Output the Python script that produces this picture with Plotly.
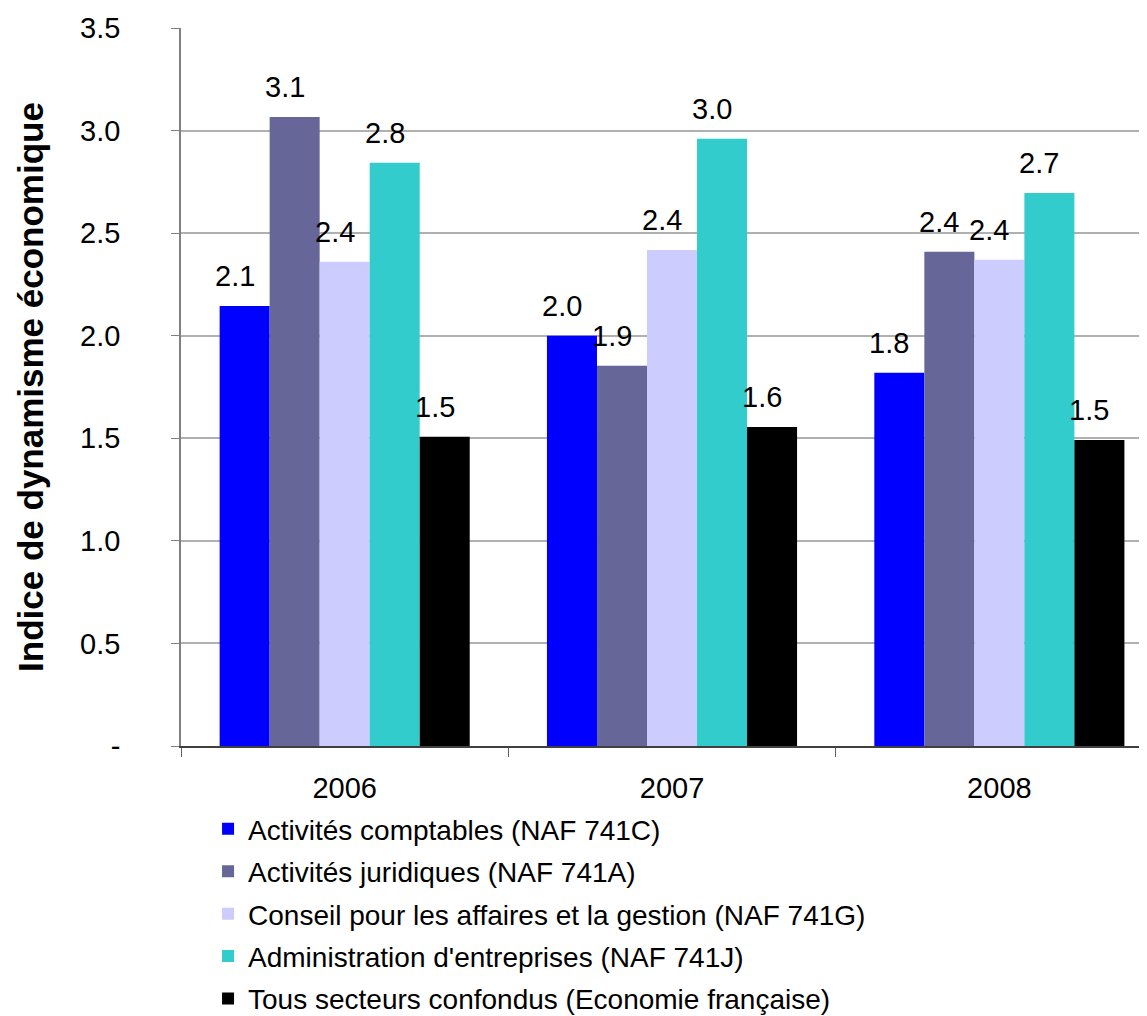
import plotly.graph_objects as go

years = ["2006", "2007", "2008"]
series_names = [
    "Activités comptables (NAF 741C)",
    "Activités juridiques (NAF 741A)",
    "Conseil pour les affaires et la gestion (NAF 741G)",
    "Administration d'entreprises (NAF 741J)",
    "Tous secteurs confondus (Economie française)",
]
comptables = [2.145, 2.00, 1.82]
juridiques = [3.066, 1.853, 2.409]
conseil = [2.36, 2.418, 2.37]
administration = [2.843, 2.96, 2.696]
tous = [1.507, 1.555, 1.492]
values = [comptables, juridiques, conseil, administration, tous]
colors = ["#0000FF", "#666699", "#CCCCFF", "#33CCCC", "#000000"]

y_ticks = [0, 0.5, 1.0, 1.5, 2.0, 2.5, 3.0, 3.5]
y_tick_labels = ["-", "0.5", "1.0", "1.5", "2.0", "2.5", "3.0", "3.5"]

# page body adds an 8px offset; figure sized to fill the visible window
W, H = 1139, 1008
ML, MR, MT, MB = 173, 0, 20, 270
x_range = [-0.5, 2.451]
bargap = 0.236
cat_px = (W - ML - MR) / (x_range[1] - x_range[0])
bar_px = cat_px * (1 - bargap) / len(values)

FONT = "Liberation Sans, Arial, sans-serif"

fig = go.Figure()
for i, (name, vals, col) in enumerate(zip(series_names, values, colors)):
    fig.add_trace(go.Bar(
        x=years, y=vals, name=name, marker_color=col,
        marker_line_width=0, legendgroup=f"g{i}",
    ))
    for j, v in enumerate(vals):
        fig.add_annotation(
            x=j, y=v, xref="x", yref="y", text=f"{v:.1f}", showarrow=False,
            xshift=(i - 2) * bar_px - 10, yshift=30,
            yanchor="middle", xanchor="center",
            font=dict(family=FONT, size=29, color="#000000"),
        )

fig.update_layout(
    width=W, height=H,
    margin=dict(l=ML, r=MR, t=MT, b=MB, autoexpand=False),
    plot_bgcolor="#FFFFFF", paper_bgcolor="#FFFFFF",
    barmode="group", bargap=bargap, bargroupgap=0,
    font=dict(family=FONT, size=28, color="#000000"),
    legend=dict(
        orientation="v", x=0.028, xanchor="left", y=-0.081, yanchor="top",
        font=dict(family=FONT, size=28, color="#000000"),
        tracegroupgap=3, itemwidth=30, bgcolor="rgba(0,0,0,0)",
    ),
    showlegend=True,
)
fig.update_xaxes(
    type="category", range=x_range,
    showline=True, linecolor="#404040", linewidth=1.5,
    ticks="outside", tickson="boundaries", ticklen=9, tickcolor="#606060",
    tickfont=dict(family=FONT, size=29), ticklabelstandoff=15,
    showgrid=False, automargin=False,
)
fig.update_yaxes(
    range=[0, 3.5], tickvals=y_ticks, ticktext=y_tick_labels,
    showline=True, linecolor="#808080", linewidth=1.5,
    ticks="outside", ticklen=8, tickcolor="#808080",
    showgrid=True, gridcolor="#B0B0B0", gridwidth=1.5,
    zeroline=False,
    tickfont=dict(family=FONT, size=29), ticklabelstandoff=45,
    title=dict(text="<b>Indice de dynamisme économique</b>",
               font=dict(family=FONT, size=35), standoff=26),
    automargin=False,
)

fig.write_html("out.html")
